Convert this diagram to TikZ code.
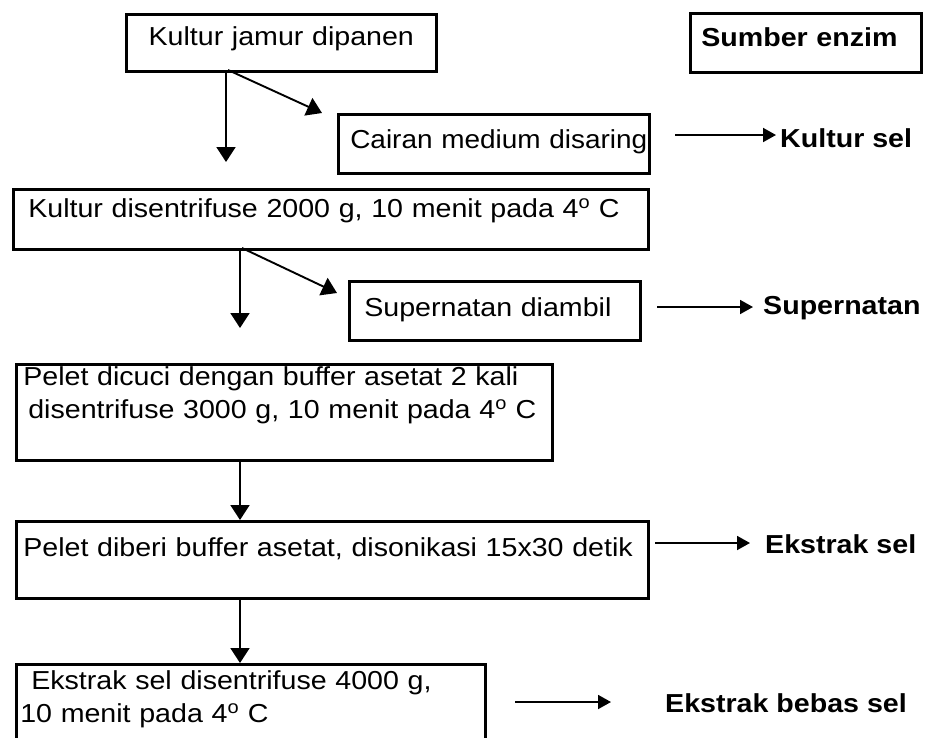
\documentclass[tikz,border=0pt]{standalone}
\usepackage{fontspec}
\setmainfont[FakeStretch=1.1]{Liberation Sans}
\usetikzlibrary{arrows.meta}
\begin{document}
\begin{tikzpicture}[x=1pt,y=-1pt,
  box/.style={draw, line width=2.6pt, rectangle, anchor=north west, inner ysep=0pt,
    align=left, font=\fontsize{26}{33.5}\selectfont},
  varr/.style={line width=1.9pt, -{Triangle[length=15pt,width=19pt]}},
  sarr/.style={line width=1.9pt, -{Triangle[length=13pt,width=14pt]}},
  lbl/.style={anchor=base west, inner sep=0pt, font=\fontsize{26}{32}\selectfont\bfseries}]
\useasboundingbox (0,0) rectangle (926,737);

% boxes
\node[box, align=center, inner xsep=10pt, text width=290pt, text height=31pt, text depth=26pt] (b1) at (125,13) {Kultur jamur dipanen};
\node[box, inner xsep=11pt, text width=209pt, text height=33pt, text depth=26pt] (se) at (689,12) {\mbox{\bfseries Sumber enzim}};
\node[box, inner xsep=12pt, text width=287pt, text height=34pt, text depth=25pt] (cm) at (337,113) {\mbox{\addfontfeatures{FakeStretch=1.075}Cairan medium disaring}};
\node[box, inner xsep=15pt, text width=605pt, text height=28pt, text depth=32pt] (b2) at (12,188) {\mbox{Kultur disentrifuse 2000 g, 10 menit pada 4\textsuperscript{o} C}};
\node[box, inner xsep=15pt, text width=261pt, text height=35pt, text depth=24pt] (sd) at (348,280) {\mbox{Supernatan diambil}};
\node[box, inner xsep=7pt, text width=522pt, text height=21pt, text depth=75pt] (pd) at (15,363) {\mbox{Pelet dicuci dengan buffer asetat 2 kali}\\\mbox{\hspace{5pt}disentrifuse 3000 g, 10 menit pada 4\textsuperscript{o} C}};
\node[box, inner xsep=7pt, text width=618pt, text height=35pt, text depth=42pt] (pb) at (15,520) {\mbox{Pelet diberi buffer asetat, disonikasi 15x30 detik}};
\node[box, inner xsep=4pt, text width=461pt, text height=25pt, text depth=72pt] (es) at (15,663) {\mbox{\hspace{11pt}Ekstrak sel disentrifuse 4000 g,}\\\mbox{10 menit pada 4\textsuperscript{o} C}};

% result labels
\node[lbl] (ks) at (780,147) {Kultur sel};
\node[lbl] (sn) at (763,314) {Supernatan};
\node[lbl] (ek) at (765,553) {Ekstrak sel};
\node[lbl] (eb) at (665,712) {Ekstrak bebas sel};

% flow arrows
\coordinate (v1) at (226,162);
\draw[varr] (v1 |- b1.south) -- (v1);
\coordinate (d1a) at (228,70);
\coordinate (d1b) at (322,113);
\draw[varr] (d1a) -- (d1b);

\coordinate (v2) at (240,328);
\draw[varr] (v2 |- b2.south) -- (v2);
\coordinate (d2a) at (242,248);
\coordinate (d2b) at (337,293);
\draw[varr] (d2a) -- (d2b);

\coordinate (x3) at (240,0);
\draw[varr] (x3 |- pd.south) -- (x3 |- pb.north);
\draw[varr] (x3 |- pb.south) -- (x3 |- es.north);

% side arrows
\coordinate (s1) at (675,135);
\draw[sarr, shorten >=4pt] (s1) -- (s1 -| ks.west);
\coordinate (s2) at (657,307);
\draw[sarr, shorten >=10pt] (s2) -- (s2 -| sn.west);
\coordinate (s3) at (655,543);
\draw[sarr, shorten >=15pt] (s3) -- (s3 -| ek.west);
\coordinate (s4) at (515,702);
\draw[sarr, shorten >=54pt] (s4) -- (s4 -| eb.west);
\end{tikzpicture}
\end{document}
